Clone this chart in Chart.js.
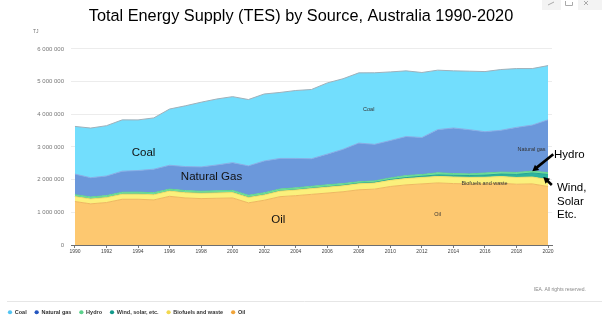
<!DOCTYPE html>
<html>
<head>
<meta charset="utf-8">
<title>Total Energy Supply by Source, Australia</title>
<script src="https://cdn.jsdelivr.net/npm/chart.js@4/dist/chart.umd.min.js"></script>
<style>
  html, body { margin: 0; padding: 0; background: #fff; overflow: hidden; }
  canvas { display: block; }
</style>
</head>
<body>
<canvas id="tes" width="602" height="322"></canvas>
<script>
// Total energy supply by source, TJ per year
const years = [1990, 1991, 1992, 1993, 1994, 1995, 1996, 1997, 1998, 1999,
               2000, 2001, 2002, 2003, 2004, 2005, 2006, 2007, 2008, 2009,
               2010, 2011, 2012, 2013, 2014, 2015, 2016, 2017, 2018, 2019, 2020];

const oil = [1330000, 1260000, 1300000, 1400000, 1400000, 1380000, 1490000, 1440000, 1420000, 1430000,
             1440000, 1290000, 1370000, 1480000, 1510000, 1550000, 1590000, 1630000, 1690000, 1710000,
             1790000, 1840000, 1870000, 1900000, 1880000, 1870000, 1870000, 1890000, 1860000, 1870000, 1790000];
const biofuels = [152000, 149000, 151000, 154000, 156000, 158000, 160000, 161000, 163000, 165000,
                  166000, 164000, 162000, 168000, 171000, 176000, 179000, 181000, 183000, 186000,
                  188000, 192000, 195000, 198000, 201000, 199000, 203000, 205000, 207000, 210000, 212000];
const windSolar = [3000, 3000, 3000, 3000, 4000, 4000, 4000, 4000, 4000, 4000,
                   5000, 6000, 7000, 8000, 10000, 12000, 14000, 16000, 18000, 21000,
                   26000, 32000, 40000, 47000, 53000, 58000, 66000, 77000, 95000, 125000, 160000];
const hydro = [55000, 57000, 58000, 58000, 59000, 58000, 57000, 60000, 58000, 60000,
               60000, 62000, 58000, 58000, 58000, 57000, 58000, 52000, 43000, 44000,
               49000, 61000, 50000, 66000, 52000, 48000, 64000, 58000, 58000, 55000, 54000];
const naturalGas = [630000, 590000, 600000, 645000, 660000, 720000, 730000, 735000, 745000, 790000,
                    850000, 900000, 975000, 935000, 900000, 845000, 940000, 1050000, 1185000, 1120000,
                    1145000, 1195000, 1135000, 1320000, 1395000, 1355000, 1265000, 1280000, 1380000, 1410000, 1615000];
const coal = [1460000, 1520000, 1540000, 1570000, 1550000, 1570000, 1720000, 1860000, 1980000, 2020000,
              2020000, 2030000, 2050000, 2020000, 2080000, 2120000, 2180000, 2160000, 2150000, 2190000,
              2100000, 2010000, 1990000, 1820000, 1750000, 1790000, 1840000, 1860000, 1800000, 1730000, 1660000];

const tickYears = [1990, 1992, 1994, 1996, 1998, 2000, 2002, 2004, 2006, 2008,
                   2010, 2012, 2014, 2016, 2018, 2020];
const valueTicks = [0, 1000000, 2000000, 3000000, 4000000, 5000000, 6000000];

const FONT = "'Liberation Sans', Arial, sans-serif";

// bottom to top of the stack
const series = [
  { label: 'Oil',                data: oil,        fill: '#fdc870', line: '#eeb860', key: '#f0a43a' },
  { label: 'Biofuels and waste', data: biofuels,   fill: '#fbf07c', line: '#efe06a', key: '#f2d84e' },
  { label: 'Wind, solar, etc.',  data: windSolar,  fill: '#2db39f', line: '#25a592', key: '#11998a' },
  { label: 'Hydro',              data: hydro,      fill: '#74e29e', line: '#62d48c', key: '#5bd18c' },
  { label: 'Natural gas',        data: naturalGas, fill: '#6b98db', line: '#86aee6', key: '#2456c0' },
  { label: 'Coal',               data: coal,       fill: '#72defd', line: '#9fb0ba', key: '#52c4f2' }
];

const datasets = series.map((s, i) => ({
  label: s.label,
  data: s.data.map((v, j) => ({ x: years[j], y: v })),
  backgroundColor: s.fill,
  borderColor: s.line,
  borderWidth: 1,
  pointRadius: 0,
  tension: 0,
  fill: i === 0 ? 'origin' : '-1'
}));

// running stack total for a given series index and year index
function stackTop(seriesIdx, yearIdx) {
  let t = 0;
  for (let k = 0; k <= seriesIdx; k++) t += series[k].data[yearIdx];
  return t;
}

// text placed inside the areas, anchored on year / value
const areaNotes = [
  { text: 'Coal',               x: 1994.35, y: 2830000, size: 11.5, color: '#111' },
  { text: 'Natural Gas',        x: 1998.66, y: 2090000, size: 11.5, color: '#111' },
  { text: 'Oil',                x: 2002.9,  y: 770000,  size: 11.5, color: '#111' },
  { text: 'Coal',               x: 2008.63, y: 4160000, size: 5.5,  color: '#333' },
  { text: 'Natural gas',        x: 2018.95, y: 2910000, size: 5.5,  color: '#333' },
  { text: 'Biofuels and waste', x: 2015.97, y: 1890000, size: 5.5,  color: '#333' },
  { text: 'Oil',                x: 2013.0,  y: 940000,  size: 5.5,  color: '#333' }
];

function drawArrow(ctx, x1, y1, x2, y2) {
  const ang = Math.atan2(y2 - y1, x2 - x1);
  const head = 7;
  ctx.save();
  ctx.strokeStyle = '#000';
  ctx.fillStyle = '#000';
  ctx.lineWidth = 2.6;
  ctx.beginPath();
  ctx.moveTo(x1, y1);
  ctx.lineTo(x2 - Math.cos(ang) * head * 0.8, y2 - Math.sin(ang) * head * 0.8);
  ctx.stroke();
  ctx.beginPath();
  ctx.moveTo(x2, y2);
  ctx.lineTo(x2 - head * Math.cos(ang - 0.5), y2 - head * Math.sin(ang - 0.5));
  ctx.lineTo(x2 - head * Math.cos(ang + 0.5), y2 - head * Math.sin(ang + 0.5));
  ctx.closePath();
  ctx.fill();
  ctx.restore();
}

const notesPlugin = {
  id: 'notes',
  afterDraw(chart) {
    const ctx = chart.ctx;
    const xs = chart.scales.x, ys = chart.scales.y;
    const area = chart.chartArea;

    ctx.save();
    ctx.textAlign = 'center';
    ctx.textBaseline = 'middle';
    areaNotes.forEach(n => {
      ctx.font = n.size + 'px ' + FONT;
      ctx.fillStyle = n.color;
      ctx.fillText(n.text, xs.getPixelForValue(n.x), ys.getPixelForValue(n.y));
    });

    // unit above the value axis
    ctx.font = '5px ' + FONT;
    ctx.fillStyle = '#777';
    ctx.textAlign = 'left';
    ctx.fillText('TJ', 33, area.top - 17);

    // callouts on the right
    ctx.font = '11.5px ' + FONT;
    ctx.fillStyle = '#000';
    ctx.fillText('Hydro', area.right + 2, 154.5);
    ctx.fillText('Wind,', area.right + 5, 187.5);
    ctx.fillText('Solar', area.right + 5, 201.5);
    ctx.fillText('Etc.', area.right + 5, 215);

    const last = years.length - 1;
    const hx = xs.getPixelForValue(2019), hy = ys.getPixelForValue(stackTop(3, last - 1));
    drawArrow(ctx, hx + 21, hy - 17, hx, hy);
    const wx = xs.getPixelForValue(2019.7);
    const wy = ys.getPixelForValue(stackTop(1, last) + windSolar[last] / 2);
    drawArrow(ctx, wx + 8.5, wy + 8, wx, wy);

    // footer rule and credit
    ctx.strokeStyle = '#e6e6e6';
    ctx.lineWidth = 1;
    ctx.beginPath();
    ctx.moveTo(7, 301.5);
    ctx.lineTo(602, 301.5);
    ctx.stroke();
    ctx.font = '5px ' + FONT;
    ctx.fillStyle = '#888';
    ctx.textAlign = 'right';
    ctx.fillText('IEA. All rights reserved.', 586, 290);

    // toolbar stub in the corner
    ctx.fillStyle = '#f3f3f3';
    ctx.fillRect(542, 0, 60, 10);
    ctx.fillStyle = '#fff';
    ctx.fillRect(561, 0, 17, 10);
    ctx.strokeStyle = '#aaa';
    ctx.beginPath();
    ctx.moveTo(548, 5); ctx.lineTo(554, 2);
    ctx.moveTo(565.5, 1); ctx.lineTo(565.5, 5.5); ctx.lineTo(572.5, 5.5); ctx.lineTo(572.5, 2);
    ctx.moveTo(584, 1); ctx.lineTo(588, 5);
    ctx.moveTo(588, 1); ctx.lineTo(584, 5);
    ctx.stroke();
    ctx.restore();
  }
};

new Chart(document.getElementById('tes'), {
  type: 'line',
  data: { datasets },
  options: {
    responsive: false,
    animation: false,
    devicePixelRatio: 1,
    layout: { padding: { left: 0, right: 0, top: 0, bottom: -3 } },
    plugins: {
      title: {
        display: true,
        text: 'Total Energy Supply (TES) by Source, Australia 1990-2020',
        color: '#000',
        font: { family: FONT, size: 16.3, weight: 'normal' },
        padding: { top: 6.3, bottom: 23.1 }
      },
      legend: {
        position: 'bottom',
        align: 'start',
        reverse: true,
        labels: {
          usePointStyle: true,
          pointStyle: 'circle',
          boxWidth: 4,
          boxHeight: 3,
          padding: 8,
          color: '#333',
          font: { family: FONT, size: 5.5, weight: 'bold' },
          generateLabels(chart) {
            const items = Chart.defaults.plugins.legend.labels.generateLabels(chart);
            items.forEach(it => {
              it.fillStyle = series[it.datasetIndex].key;
              it.strokeStyle = series[it.datasetIndex].key;
              it.lineWidth = 0;
            });
            return items;
          }
        }
      },
      tooltip: { enabled: false }
    },
    scales: {
      x: {
        type: 'linear',
        min: 1989.75,
        max: 2020.25,
        afterBuildTicks(scale) { scale.ticks = tickYears.map(v => ({ value: v })); },
        afterFit(scale) { scale.height = 56.5; },
        ticks: {
          color: '#444',
          padding: 1,
          maxRotation: 0,
          font: { family: FONT, size: 5 },
          callback: v => String(v)
        },
        grid: { drawOnChartArea: false, drawTicks: true, tickLength: 3, color: '#777' },
        border: { display: true, color: '#6e6e6e', width: 1 }
      },
      y: {
        stacked: true,
        min: 0,
        max: 6000000,
        afterBuildTicks(scale) { scale.ticks = valueTicks.map(v => ({ value: v })); },
        afterFit(scale) { scale.width = 71; },
        ticks: {
          color: '#777',
          padding: 7,
          font: { family: FONT, size: 6 },
          callback: v => v.toLocaleString('en-US').replace(/,/g, ' ')
        },
        grid: { drawTicks: false, color: '#ececec' },
        border: { display: false }
      },
      yR: {
        position: 'right',
        display: true,
        afterFit(scale) { scale.width = 50; },
        ticks: { display: false },
        grid: { display: false },
        border: { display: false }
      }
    }
  },
  plugins: [notesPlugin]
});
</script>
</body>
</html>
